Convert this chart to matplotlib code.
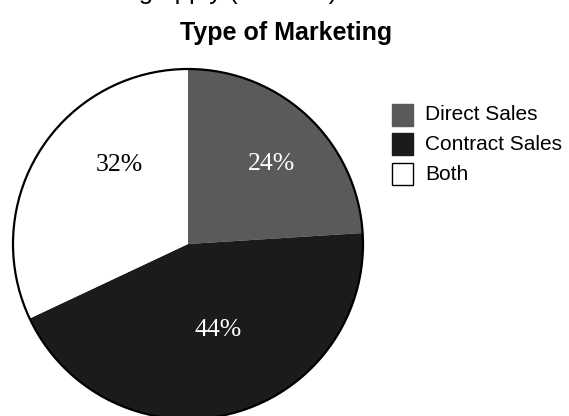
import matplotlib
matplotlib.use("Agg")
import matplotlib.pyplot as plt
from matplotlib.patches import Circle, Rectangle
import numpy as np

# Share of respondents by type of marketing
categories = ["Direct Sales", "Contract Sales", "Both"]
shares = [24, 44, 32]
colors = ["#5a5a5a", "#1b1b1b", "#ffffff"]
label_colors = ["white", "white", "black"]
# label positions (fraction of radius, angle in degrees)
label_polar = [(0.66, 44), (0.52, -71), (0.60, 131)]

W, H = 569, 416
fig = plt.figure(figsize=(W / 100, H / 100), dpi=100)

# pie axes: centre (188, 244) px, radius 175 px
cx, cy, r = 188, 244, 175
ax = fig.add_axes([(cx - r) / W, (H - cy - r) / H, 2 * r / W, 2 * r / H])

wedges, _ = ax.pie(shares, colors=colors, startangle=90, counterclock=False,
                   radius=1.0, wedgeprops=dict(linewidth=0), frame=True)
for w in wedges:
    w.set_clip_on(False)
ax.set_xlim(-1, 1)
ax.set_ylim(-1, 1)
ax.axis("off")
outline = Circle((0, 0), 1.0, fill=False, edgecolor="black", linewidth=1.6)
outline.set_clip_on(False)
ax.add_patch(outline)

for val, (fr, ang), col in zip(shares, label_polar, label_colors):
    a = np.deg2rad(ang)
    ax.text(fr * np.cos(a), fr * np.sin(a), f"{val}%", ha="center", va="center",
            color=col, fontsize=18.5, family="Liberation Serif")

# title and the clipped heading above it
fig.text(286 / W, 1 - 40 / H, "Type of Marketing", ha="center", va="baseline",
         fontsize=18, fontweight="bold", family="Liberation Sans")
fig.text(40 / W, 1 + 1 / H, "Marketing apply (N = 125)", ha="left", va="baseline",
         fontsize=18.5, family="Liberation Sans")

# legend drawn as boxes and labels in figure pixels
box_w, box_h = 21, 22
box_x = 392
rows_y = [104, 133, 163]  # top edge of each box
for name, col, ytop in zip(categories, colors, rows_y):
    fig.patches.append(Rectangle((box_x / W, 1 - (ytop + box_h) / H), box_w / W, box_h / H,
                                 transform=fig.transFigure, facecolor=col,
                                 edgecolor="black" if col == "#ffffff" else col,
                                 linewidth=1.0))
    fig.text(425 / W, 1 - (ytop + box_h / 2) / H, name, ha="left", va="center",
             fontsize=15, family="Liberation Sans")

fig.savefig("out.png", dpi=100)
